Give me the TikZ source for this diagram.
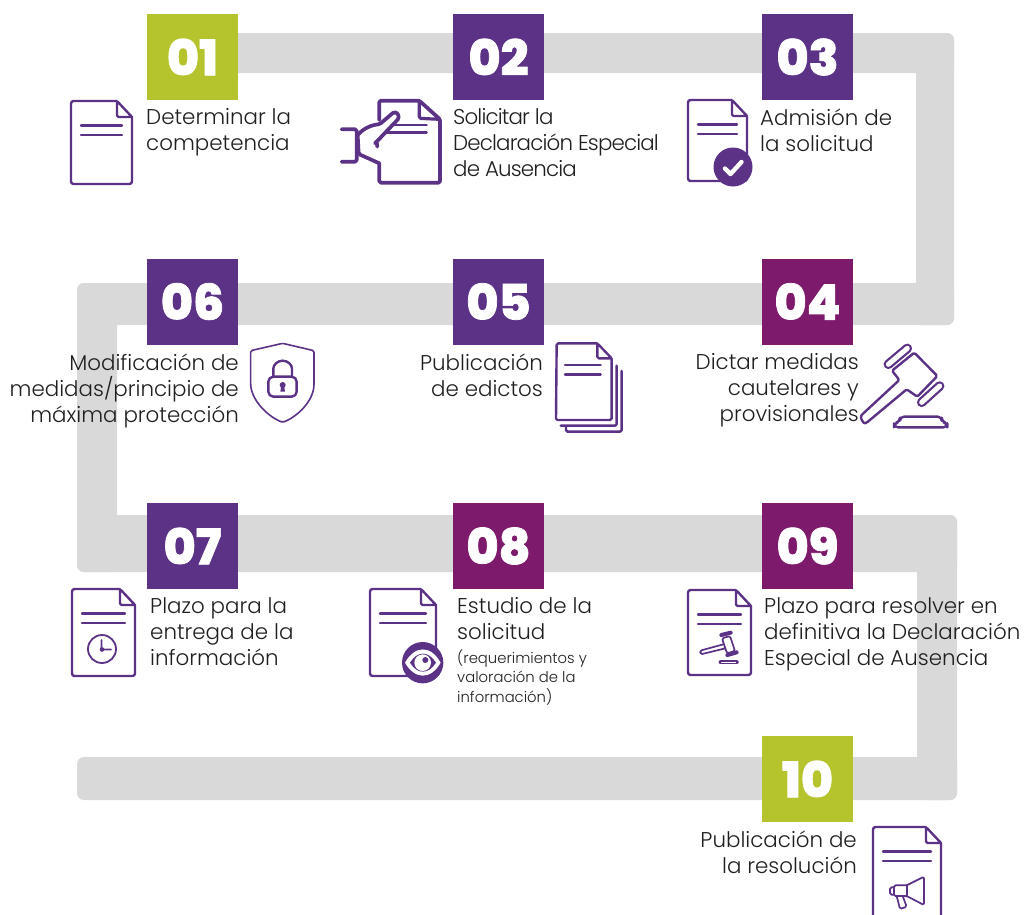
\documentclass[tikz,border=0pt]{standalone}
\usepackage{fontspec}
\setmainfont{Poppins Light}
\newfontfamily\numfont[FakeBold=1.5]{Poppins ExtraBold}
\definecolor{limeC}{HTML}{B5C42C}
\definecolor{purpC}{HTML}{5B3286}
\definecolor{magC}{HTML}{7D1A6C}
\definecolor{grayC}{HTML}{D9D9D9}
\definecolor{inkC}{HTML}{1F1F1F}
\tikzset{
 numbox/.style={minimum width=91pt,minimum height=86pt,inner sep=0pt,text=white,font=\numfont\fontsize{49}{49}\selectfont},
 band/.style={fill=grayC,rounded corners=7pt},
 labelL/.style={anchor=north west,align=left,inner sep=0pt,text=inkC,font=\fontsize{21.4}{26}\selectfont},
 labelR/.style={anchor=north east,align=right,inner sep=0pt,text=inkC,font=\fontsize{21.4}{26}\selectfont},
 ico/.style={draw=purpC,line width=2.4pt,line join=round,line cap=round,rounded corners=1.5pt,fill=none},
 zoomed/.style={x=0.33333pt,y=-0.33333pt},
}
% document icon: x,y,w,h
\newcommand{\docpage}[4]{%
 \fill[white,rounded corners=2pt] (#1,#2) rectangle ++(#3,#4);
 \draw[ico,rounded corners=2.5pt] (#1+#3-15,#2) -- (#1,#2) -- (#1,#2+#4) -- (#1+#3,#2+#4) -- (#1+#3,#2+16);
 \draw[ico] (#1+#3,#2+16) -- (#1+#3-15,#2) -- (#1+#3-15,#2+16) -- (#1+#3,#2+16);
 \draw[ico] (#1+10,#2+24.5) -- (#1+#3-10,#2+24.5) (#1+10,#2+34) -- (#1+#3-10,#2+34);
}
\begin{document}
\begin{tikzpicture}[x=1pt,y=-1pt]
\useasboundingbox (0,0) rectangle (1025,914);
\clip (0,0) rectangle (1025,914);
% gray track
\fill[band] (200,33) rectangle (954,73);
\fill[band] (916,33) rectangle (954,325);
\fill[band] (77,283) rectangle (954,325);
\fill[band] (77,283) rectangle (117,572);
\fill[band] (77,515) rectangle (957,572);
\fill[band] (917,515) rectangle (957,800);
\fill[band] (77,757) rectangle (957,800);
% numbered squares
\node[numbox,fill=limeC] (s01) at (192.5,57) {01};
\node[numbox,fill=purpC] (s02) at (498.5,57) {02};
\node[numbox,fill=purpC] (s03) at (807.5,57) {03};
\node[numbox,fill=magC] (s04) at (807.5,301.5) {04};
\node[numbox,fill=purpC] (s05) at (498.5,301.5) {05};
\node[numbox,fill=purpC] (s06) at (192.5,301.5) {06};
\node[numbox,fill=purpC] (s07) at (192.5,546) {07};
\node[numbox,fill=magC] (s08) at (498.5,546) {08};
\node[numbox,fill=magC] (s09) at (807.5,546) {09};
\node[numbox,fill=limeC] (s10) at (807.5,779) {10};
% labels
\node[labelL] (t01) at (146,108.5) {Determinar la\\competencia};
\node[labelL,font=\fontsize{21.4}{26}\selectfont\addfontfeature{LetterSpace=-4}] (t02) at (453,108.5) {Solicitar la\\Declaración Especial\\de Ausencia};
\node[labelL] (t03) at (760,108.5) {Admisión de\\la solicitud};
\node[labelR] (t04) at (859,353.5) {Dictar medidas\\cautelares y\\provisionales};
\node[labelR] (t05) at (543,353.5) {Publicación\\de edictos};
\node[labelR] (t06) at (239,353.5) {Modificación de\\medidas/principio de\\máxima protección};
\node[labelL] (t07) at (150,597.5) {Plazo para la\\entrega de la\\información};
\node[labelL] (t08) at (457,597.5) {Estudio de la\\solicitud};
\node[labelL,font=\fontsize{14.8}{19.5}\selectfont] (t08b) at (457,649) {(requerimientos y\\valoración de la\\información)};
\node[labelL] (t09) at (764,597.5) {Plazo para resolver en\\definitiva la Declaración\\Especial de Ausencia};
\node[labelR] (t10) at (857,830.5) {Publicación de\\la resolución};
% icon 01
\docpage{71}{101}{61}{83}
% icon 02: hand holding page
\begin{scope}[shift={(60,0)},zoomed]
 \draw[ico,line width=3.7pt] (958,360) -- (958,302) -- (1078,302) -- (1140,358) -- (1140,548) -- (958,548) -- (958,490);
 \draw[ico,line width=3.2pt] (1078,302) -- (1078,355) -- (1140,358);
 \draw[ico] (985,375) -- (1100,375) (975,398) -- (1100,398);
 \draw[ico,line width=3.7pt] (845,388) -- (890,388) -- (890,485) -- (845,485);
 \draw[ico,line width=3.7pt,fill=white] (893,405) .. controls (915,380) and (940,375) .. (960,372) -- (995,342) .. controls (1010,330) and (1022,350) .. (1010,362) -- (950,425) -- (945,430) (950,425) -- (952,440) (893,405) -- (896,462) -- (958,490);
\end{scope}
% icon 03
\docpage{688}{100}{59}{81}
\fill[purpC] (733,167) circle (19.5);
\draw[white,line width=4.4pt,line cap=round,line join=round] (725,168.5) -- (730.5,174) -- (741.5,162);
% icon 04: gavel
\begin{scope}[shift={(680,330)},zoomed]
 \draw[ico] (703,68) -- (772,138) -- (712,200) -- (680,178) -- (560,278) .. controls (550,282) and (538,262) .. (548,252) -- (658,150) -- (636,122) -- cycle;
 \foreach \ax/\ay/\bx/\by in {625/103/682/55,725/217/779/168}{
  \draw[purpC,line width=9.5pt,line cap=round] (\ax,\ay) -- (\bx,\by);
  \draw[white,line width=5pt,line cap=round] (\ax,\ay) -- (\bx,\by);
 }
 \draw[ico,rounded corners=4pt] (642,292) -- (642,280) -- (660,275) -- (660,260) -- (785,260) -- (785,275) -- (802,280) -- (802,292) -- cycle;
\end{scope}
% icon 05: stacked pages
\begin{scope}[shift={(240,335)},zoomed]
 \draw[ico] (1130,92) -- (1130,272) -- (962,272) (1145,108) -- (1145,290) -- (978,290) -- (978,272);
 \draw[ico] (1072,25) -- (950,25) -- (948,255) -- (1115,255) -- (1115,70) -- (1072,25) -- (1072,70) -- (1115,70);
 \draw[ico] (975,90) -- (1082,90) (975,118) -- (1082,118);
\end{scope}
% icon 06: shield with padlock
\begin{scope}[shift={(240,335)},zoomed]
 \draw[ico,line width=1.6pt] (128,25) -- (32,47) -- (32,150) .. controls (38,200) and (85,245) .. (128,262) .. controls (172,245) and (218,200) .. (222,150) -- (222,47) -- cycle;
 \draw[ico,rounded corners=5pt] (85,125) rectangle (170,185);
 \draw[ico] (100,125) -- (100,105) arc[start angle=180,end angle=0,x radius=28,y radius=-28] -- (156,125);
 \fill[purpC] (128,150) circle[radius=9] (124,150) -- (132,150) -- (135,170) -- (121,170) -- cycle;
\end{scope}
% icon 07
\docpage{72}{589}{63}{87}
\draw[ico,line width=1.8pt] (102,649) circle (14);
\draw[ico,line width=1.8pt] (101.5,640) -- (101.5,649.5) -- (111,649.5);
\fill[purpC] (102,649.5) circle (2.3);
% icon 08
\docpage{370}{589}{66}{87}
\begin{scope}[shift={(360,580)},zoomed]
 \fill[purpC] (188,248) circle[radius=62];
 \fill[white] (135,248) .. controls (165,195) and (212,195) .. (242,248) .. controls (212,300) and (165,300) .. (135,248) -- cycle;
 \fill[purpC] (150,248) .. controls (172,212) and (205,212) .. (228,248) .. controls (205,284) and (172,284) .. (150,248) -- cycle;
 \fill[white] (188,248) circle[radius=25];
 \fill[purpC] (196,240) circle[radius=9];
\end{scope}
% icon 09
\docpage{688}{590}{63}{85}
\begin{scope}[shift={(680,585)},zoomed]
 \draw[ico,line width=1.7pt] (126,160) -- (150,153) -- (165,198) -- (141,205) -- cycle;
 \draw[purpC,line width=4pt,line cap=round] (124,150) -- (152,143) (142,210) -- (170,202);
 \draw[ico,line width=1.7pt] (130,178) -- (60,197) -- (62,208) -- (136,190);
 \draw[purpC,line width=4.2pt,line cap=round] (122,232) -- (170,232);
 \draw[white,line width=1pt,line cap=round] (125,232) -- (167,232);
\end{scope}
% icon 10
\docpage{873}{827}{68}{105}
\begin{scope}[shift={(680,730)},zoomed]
 \draw[ico,line width=1.7pt] (642,466) -- (680,466) -- (732,440) -- (732,525) -- (680,498) -- (642,498) -- cycle;
 \draw[ico,line width=1.7pt] (680,466) -- (680,498);
 \draw[ico,line width=1.7pt] (642,472) -- (630,472) -- (630,494) -- (642,494);
 \draw[ico,line width=1.7pt] (650,498) -- (660,537) -- (680,530) -- (668,498);
\end{scope}
\end{tikzpicture}
\end{document}
